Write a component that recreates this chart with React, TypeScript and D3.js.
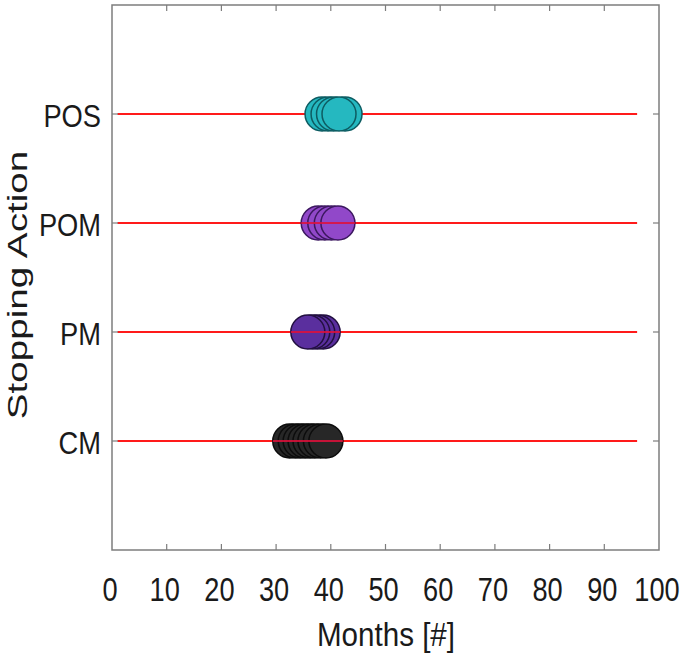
import * as d3 from "d3";
import React from "react";

// stopping actions, bottom to top
const categories = ["CM", "PM", "POM", "POS"];

// months per run, in draw order (later ones sit on top)
const cmMonths = [32.5, 33.5, 34.4, 35.3, 36.2, 37.1, 38.1, 39.1];
const pmMonths = [38.6, 37.6, 36.7, 35.8];
const pomMonths = [37.7, 38.9, 40.1, 41.3];
const posMonths = [38.4, 39.5, 40.5, 42.6, 41.5];

const seriesMonths = [cmMonths, pmMonths, pomMonths, posMonths];
const seriesFill = ["#272727", "#5a2f9e", "#9148c9", "#25b8c0"];
const seriesEdge = ["#0c0c0c", "#221040", "#3c1860", "#0d5c62"];

const xTicks = [0, 10, 20, 30, 40, 50, 60, 70, 80, 90, 100];
const lineStart = 1;
const lineEnd = 96;

const W = 685;
const H = 662;

const App = () => {
  const x = d3.scaleLinear().domain([0, 100]).range([112, 659]);
  const y = d3.scaleLinear().domain([0, 5]).range([550, 5]);
  const rowY = (i: number) => y(i + 1);

  const font = "'Liberation Sans', Arial, sans-serif";
  const axisColor = "#7d7d7d";

  return (
    <svg
      width={W}
      height={H}
      style={{ position: "absolute", left: 0, top: 0, background: "#fff" }}
    >
      {/* red guide lines */}
      {categories.map((c, i) => (
        <line
          key={`l-${c}`}
          x1={x(lineStart)}
          x2={x(lineEnd)}
          y1={rowY(i)}
          y2={rowY(i)}
          stroke="#ff1a1a"
          strokeWidth={2}
        />
      ))}

      {/* markers */}
      {seriesMonths.map((vals, i) =>
        vals.map((v, j) => (
          <circle
            key={`c-${i}-${j}`}
            cx={x(v)}
            cy={rowY(i)}
            r={17}
            fill={seriesFill[i]}
            stroke={seriesEdge[i]}
            strokeWidth={1.5}
          />
        ))
      )}

      {/* red line shows through the darker markers */}
      {categories.map((c, i) =>
        i < 3 ? (
          <line
            key={`lo-${c}`}
            x1={x(d3.min(seriesMonths[i])!) - 17}
            x2={x(d3.max(seriesMonths[i])!) + 17}
            y1={rowY(i)}
            y2={rowY(i)}
            stroke="#e0103a"
            strokeWidth={2}
            opacity={0.85}
          />
        ) : null
      )}

      {/* axes box */}
      <rect
        x={x(0)}
        y={y(5)}
        width={x(100) - x(0)}
        height={y(0) - y(5)}
        fill="none"
        stroke={axisColor}
        strokeWidth={1.5}
      />

      {/* x ticks, bottom and top */}
      {xTicks.slice(1, -1).map((t) => (
        <g key={`xt-${t}`} stroke={axisColor} strokeWidth={1.2}>
          <line x1={x(t)} x2={x(t)} y1={y(0)} y2={y(0) - 6} />
          <line x1={x(t)} x2={x(t)} y1={y(5)} y2={y(5) + 6} />
        </g>
      ))}

      {/* y ticks, left and right */}
      {categories.map((c, i) => (
        <g key={`yt-${c}`} stroke={axisColor} strokeWidth={1.2}>
          <line x1={x(0)} x2={x(0) + 6} y1={rowY(i)} y2={rowY(i)} />
          <line x1={x(100)} x2={x(100) - 6} y1={rowY(i)} y2={rowY(i)} />
        </g>
      ))}

      {/* x tick labels */}
      {xTicks.map((t) => (
        <text
          key={`xl-${t}`}
          transform={`translate(${x(t) - 2},601) scale(0.8,1)`}
          textAnchor="middle"
          fontFamily={font}
          fontSize={34}
          fill="#1a1a1a"
        >
          {t}
        </text>
      ))}

      {/* category labels */}
      {categories.map((c, i) => (
        <text
          key={`yl-${c}`}
          transform={`translate(101,${rowY(i) + 13}) scale(0.88,1)`}
          textAnchor="end"
          fontFamily={font}
          fontSize={31}
          fill="#1a1a1a"
        >
          {c}
        </text>
      ))}

      {/* axis titles */}
      <text
        transform="translate(386,646) scale(0.87,1)"
        textAnchor="middle"
        fontFamily={font}
        fontSize={34}
        fill="#1a1a1a"
      >
        Months [#]
      </text>
      <text
        transform="translate(27,285) rotate(-90) scale(1.38,1)"
        textAnchor="middle"
        fontFamily={font}
        fontSize={28}
        fill="#1a1a1a"
      >
        Stopping Action
      </text>
    </svg>
  );
};

export default App;
